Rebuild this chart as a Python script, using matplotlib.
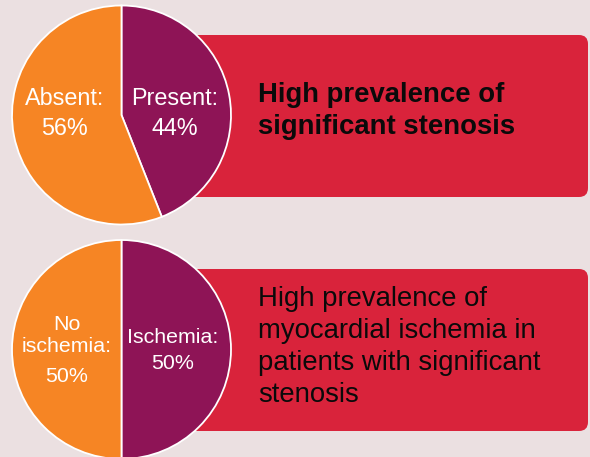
import matplotlib.pyplot as plt
from matplotlib.patches import FancyBboxPatch

plt.rcParams['font.family'] = ['Liberation Sans', 'DejaVu Sans']

# data
top_labels = ["Present:", "Absent:"]
top_values = [44, 56]
bottom_labels = ["Ischemia:", "No\nischemia:"]
bottom_values = [50, 50]
top_message = "High prevalence of\nsignificant stenosis"
bottom_message = "High prevalence of\nmyocardial ischemia in\npatients with significant\nstenosis"

BG = "#ebe0e1"
ORANGE = "#f68524"
PURPLE = "#8e1456"
RED = "#d9233b"

W, H = 590, 457
fig = plt.figure(figsize=(W / 100, H / 100), dpi=100)
fig.patch.set_facecolor(BG)
ax = fig.add_axes([0, 0, 1, 1])
ax.set_facecolor(BG)


def Y(y):
    # pixel row (from top) -> data y
    return H - y


# red rounded boxes behind pies
for top, bottom in [(35, 197), (269, 431)]:
    box = FancyBboxPatch((150, Y(bottom)), 438, bottom - top,
                         boxstyle="round,pad=0,rounding_size=9",
                         fc=RED, ec="none", zorder=1)
    ax.add_patch(box)

wp = dict(edgecolor="white", linewidth=1.3)
for vals, cy in [(top_values, 115), (bottom_values, 349.5)]:
    wedges, _ = ax.pie(vals, colors=[PURPLE, ORANGE], startangle=90,
                       counterclock=False, center=(121.5, Y(cy)),
                       radius=109.5, wedgeprops=wp)
    for w in wedges:
        w.set_zorder(2)

# pie labels (name baseline, percent baseline)
tk = dict(color="white", ha="center", va="baseline", zorder=3)
ax.text(174.5, Y(105), top_labels[0], fontsize=16.8, **tk)
ax.text(174.5, Y(135), f"{top_values[0]}%", fontsize=16.8, **tk)
ax.text(64.5, Y(105), top_labels[1], fontsize=16.8, **tk)
ax.text(64.5, Y(135), f"{top_values[1]}%", fontsize=16.8, **tk)

ax.text(173, Y(343), bottom_labels[0], fontsize=15.4, **tk)
ax.text(173, Y(369), f"{bottom_values[0]}%", fontsize=15.4, **tk)
no_line, isch_line = bottom_labels[1].split("\n")
ax.text(67, Y(330), no_line, fontsize=15.4, **tk)
ax.text(67, Y(352), isch_line, fontsize=15.4, **tk)
ax.text(67, Y(382), f"{bottom_values[1]}%", fontsize=15.4, **tk)

# messages
ax.text(258, Y(111), top_message, fontsize=19.8, fontweight="bold",
        color="#0a0a0a", ha="left", va="center", linespacing=1.28, zorder=3)
ax.text(258, Y(347), bottom_message, fontsize=19.8,
        color="#0a0a0a", ha="left", va="center", linespacing=1.31, zorder=3)

ax.set_xlim(0, W)
ax.set_ylim(0, H)
ax.set_aspect("equal")
ax.axis("off")

fig.savefig("out.png", dpi=100, facecolor=BG)
